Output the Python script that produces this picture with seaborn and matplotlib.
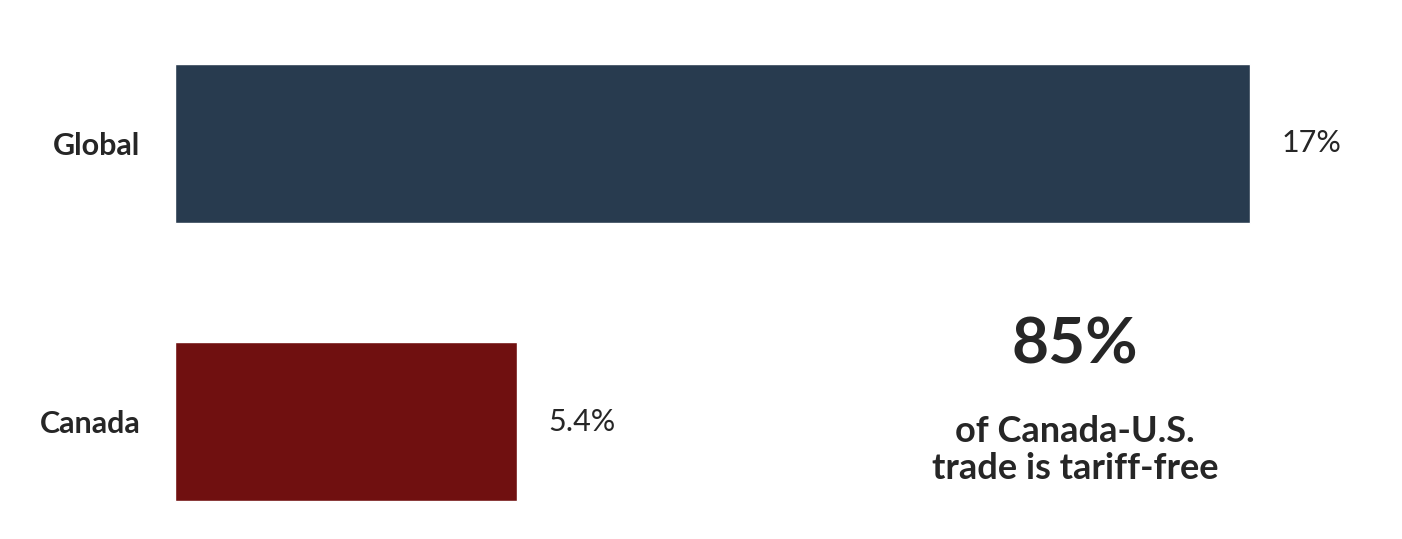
import matplotlib
matplotlib.use("Agg")
import matplotlib.pyplot as plt
import seaborn as sns

# data
regions = ["Global", "Canada"]
tariffs = [17, 5.4]
value_labels = ["17%", "5.4%"]
bar_colors = ["#213B55", "#800000"]

sns.set_style("white")
plt.rcParams["font.family"] = ["Lato", "DejaVu Sans"]

fig = plt.figure(figsize=(14.02, 5.39), dpi=100)
ax = fig.add_axes([175 / 1402, 0, 1 - 175 / 1402, 1])

sns.barplot(x=tariffs, y=regions, hue=regions, palette=bar_colors,
            orient="h", width=0.57, legend=False, ax=ax)

ax.set_xlim(0, 19.4)
ax.set_ylim(1.42, -0.513)
sns.despine(ax=ax, left=True, bottom=True)
ax.set_xticks([])
ax.set_xlabel("")
ax.set_ylabel("")
ax.tick_params(axis="y", length=0, pad=25)
for lbl in ax.get_yticklabels():
    lbl.set_fontsize(22)
    lbl.set_fontweight("bold")

for i, (v, t) in enumerate(zip(tariffs, value_labels)):
    ax.text(v + 0.5, i, t, va="center", ha="left", fontsize=22)

fig.text(1075 / 1402, 1 - 345 / 539, "85%", ha="center", va="center",
         fontsize=46, fontweight="bold")
fig.text(1075 / 1402, 1 - 450 / 539, "of Canada-U.S.\ntrade is tariff-free",
         ha="center", va="center", fontsize=26, fontweight="bold",
         linespacing=1.15)

fig.savefig("out.png", dpi=100)
